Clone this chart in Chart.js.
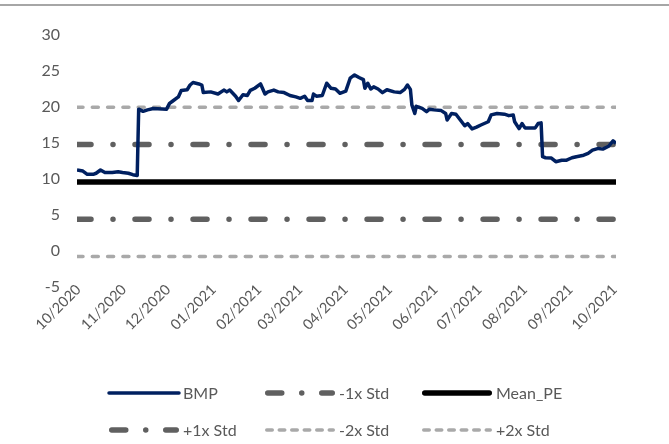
<!DOCTYPE html>
<html>
<head>
<meta charset="utf-8">
<script src="https://cdn.jsdelivr.net/npm/chart.js@4.4.1/dist/chart.umd.min.js"></script>
<style>
  html, body { margin: 0; padding: 0; background: #fff; }
  #wrap { position: relative; width: 669px; height: 444px; }
  #topline { position: absolute; left: 0; top: 4px; width: 669px; height: 2px; background: #a6a6a6; }
  canvas { position: absolute; left: 0; top: 0; }
</style>
</head>
<body>
<div id="wrap">
  <div id="topline"></div>
  <canvas id="pe-chart" width="669" height="444"></canvas>
</div>
<script>
// BMP price/earnings
var dates = [
  '2020-09-30', '2020-10-04', '2020-10-07', '2020-10-11', '2020-10-13', '2020-10-16', '2020-10-19', '2020-10-24',
  '2020-10-28', '2020-10-31', '2020-11-04', '2020-11-07', '2020-11-10', '2020-11-11', '2020-11-14', '2020-11-17',
  '2020-11-21', '2020-11-30', '2020-12-02', '2020-12-04', '2020-12-08', '2020-12-10', '2020-12-14', '2020-12-16',
  '2020-12-18', '2020-12-22', '2020-12-24', '2020-12-25', '2020-12-30', '2021-01-04', '2021-01-08', '2021-01-10',
  '2021-01-12', '2021-01-16', '2021-01-18', '2021-01-21', '2021-01-24', '2021-01-26', '2021-01-29', '2021-02-02',
  '2021-02-05', '2021-02-07', '2021-02-11', '2021-02-14', '2021-02-18', '2021-02-22', '2021-02-26', '2021-03-01',
  '2021-03-04', '2021-03-06', '2021-03-09', '2021-03-10', '2021-03-12', '2021-03-16', '2021-03-19', '2021-03-22',
  '2021-03-25', '2021-03-28', '2021-04-01', '2021-04-04', '2021-04-07', '2021-04-10', '2021-04-13', '2021-04-14',
  '2021-04-16', '2021-04-18', '2021-04-20', '2021-04-23', '2021-04-26', '2021-04-29', '2021-05-04', '2021-05-08',
  '2021-05-11', '2021-05-13', '2021-05-15', '2021-05-16', '2021-05-18', '2021-05-19', '2021-05-23', '2021-05-26',
  '2021-05-28', '2021-05-31', '2021-06-05', '2021-06-08', '2021-06-09', '2021-06-12', '2021-06-15', '2021-06-18',
  '2021-06-21', '2021-06-23', '2021-06-26', '2021-06-29', '2021-07-02', '2021-07-07', '2021-07-09', '2021-07-13',
  '2021-07-18', '2021-07-21', '2021-07-24', '2021-07-25', '2021-07-28', '2021-07-30', '2021-08-01', '2021-08-08',
  '2021-08-10', '2021-08-12', '2021-08-13', '2021-08-15', '2021-08-19', '2021-08-22', '2021-08-26', '2021-08-29',
  '2021-09-02', '2021-09-05', '2021-09-10', '2021-09-13', '2021-09-16', '2021-09-20', '2021-09-23', '2021-09-27',
  '2021-09-30', '2021-10-02'
];
var bmp = [
  11.25, 11.1, 10.65, 10.65, 10.8, 11.25, 10.9, 10.9,
  11.0, 10.9, 10.8, 10.6, 10.5, 19.7, 19.4, 19.6,
  19.8, 19.7, 20.5, 20.8, 21.4, 22.3, 22.4, 23.05,
  23.4, 23.2, 23.05, 22.0, 22.1, 21.8, 22.35, 22.1,
  22.35, 21.5, 20.9, 21.7, 21.6, 22.3, 22.6, 23.2,
  21.8, 22.1, 22.35, 22.1, 22.0, 21.6, 21.4, 21.2,
  21.5, 20.9, 20.9, 21.8, 21.5, 21.6, 23.3, 22.6,
  22.5, 21.9, 22.2, 24.0, 24.45, 24.1, 23.8, 22.6,
  23.3, 22.5, 22.8, 22.5, 22.0, 22.4, 22.1, 22.0,
  22.45, 23.05, 22.45, 20.3, 19.1, 20.1, 19.8, 19.35,
  19.7, 19.6, 19.5, 19.1, 18.2, 19.1, 19.0, 18.2,
  17.4, 17.7, 16.95, 17.2, 17.5, 17.95, 18.9, 19.1,
  19.0, 18.8, 18.9, 17.95, 17.0, 17.7, 17.1, 17.1,
  17.7, 17.8, 13.1, 12.95, 12.9, 12.4, 12.6, 12.6,
  12.95, 13.1, 13.3, 13.55, 14.0, 14.25, 14.15, 14.55,
  15.3, 14.95
];

// flat reference lines
var bandNames = ['-1x Std', 'Mean_PE', '+1x Std', '-2x Std', '+2x Std'];
var bandValues = [4.42, 9.6, 14.78, -0.76, 19.96];

var monthStarts = ['2020-10-01', '2020-11-01', '2020-12-01', '2021-01-01', '2021-02-01', '2021-03-01', '2021-04-01',
  '2021-05-01', '2021-06-01', '2021-07-01', '2021-08-01', '2021-09-01', '2021-10-01'];
var monthLabels = ['10/2020', '11/2020', '12/2020', '01/2021', '02/2021', '03/2021', '04/2021',
  '05/2021', '06/2021', '07/2021', '08/2021', '09/2021', '10/2021'];

var fontFamily = 'Lato, "Open Sans", sans-serif';
var textGrey = '#595959';

var toDay = function(s) {
  return (Date.parse(s + 'T00:00:00Z') - Date.parse('2020-10-01T00:00:00Z')) / 864e5;
};
var firstDay = toDay(dates[0]);
var lastDay = toDay(dates[dates.length - 1]);

var bmpPoints = dates.map(function(d, i) { return {x: toDay(d), y: bmp[i]}; });
var flat = function(v) { return [{x: firstDay, y: v}, {x: lastDay, y: v}]; };

var dashDot = [14, 22, 0.01, 22];
var styles = {
  '-1x Std': {color: '#606060', width: 5.5, dash: dashDot, cap: 'round', legendDash: [14, 20, 0.01, 20]},
  'Mean_PE': {color: '#000000', width: 5.5, dash: [], cap: 'round'},
  '+1x Std': {color: '#606060', width: 5.5, dash: dashDot, cap: 'round', legendDash: [14, 20, 0.01, 20]},
  '-2x Std': {color: '#a9a9a9', width: 3.5, dash: [6, 9.3], cap: 'round', legendDash: [5.5, 7]},
  '+2x Std': {color: '#a9a9a9', width: 3.5, dash: [6, 9.3], cap: 'round', legendDash: [5.5, 7]}
};

var datasets = [{
  label: 'BMP',
  data: bmpPoints,
  borderColor: '#002060',
  borderWidth: 3.5,
  borderJoinStyle: 'round',
  pointRadius: 0,
  tension: 0
}];
bandNames.forEach(function(name, i) {
  var s = styles[name];
  datasets.push({
    label: name,
    data: flat(bandValues[i]),
    borderColor: s.color,
    borderWidth: s.width,
    borderDash: s.dash,
    borderCapStyle: s.cap,
    legendDash: s.legendDash,
    pointRadius: 0
  });
});

// Excel-style legend: 3 equal columns, 2 rows
var legendCols = [109, 265, 422];
var legendRows = [393, 430];
var gridLegend = {
  id: 'gridLegend',
  afterDraw: function(chart) {
    var ctx = chart.ctx;
    chart.data.datasets.forEach(function(ds, i) {
      var x = legendCols[i % 3];
      var y = legendRows[Math.floor(i / 3)];
      var cap = ds.borderCapStyle === 'round' ? ds.borderWidth / 2 : 0;
      ctx.save();
      ctx.strokeStyle = ds.borderColor;
      ctx.lineWidth = ds.borderWidth;
      ctx.lineCap = ds.borderCapStyle || 'round';
      ctx.setLineDash(ds.legendDash || ds.borderDash || []);
      ctx.beginPath();
      ctx.moveTo(x + cap, y);
      ctx.lineTo(x + 70 - cap, y);
      ctx.stroke();
      ctx.setLineDash([]);
      ctx.fillStyle = textGrey;
      ctx.font = '16px ' + fontFamily;
      ctx.textBaseline = 'middle';
      ctx.textAlign = 'left';
      ctx.fillText(ds.label, x + 74, y + 1);
      ctx.restore();
    });
  }
};

new Chart(document.getElementById('pe-chart').getContext('2d'), {
  type: 'line',
  data: {datasets: datasets},
  plugins: [gridLegend],
  options: {
    responsive: false,
    animation: false,
    layout: {padding: {left: 0, right: 53, top: 35, bottom: 0}},
    plugins: {
      legend: {display: false},
      tooltip: {enabled: false}
    },
    scales: {
      x: {
        type: 'linear',
        min: firstDay,
        max: lastDay,
        grid: {display: false, drawTicks: false},
        border: {display: false},
        afterBuildTicks: function(scale) {
          scale.ticks = monthStarts.map(function(s) { return {value: toDay(s)}; });
        },
        afterFit: function(scale) {
          scale.height = 157;
          // let the month labels run up over the "-5" tick like the original
          scale._computeLabelArea = function() { return undefined; };
        },
        ticks: {
          autoSkip: false,
          maxRotation: 45,
          minRotation: 45,
          padding: -6,
          color: textGrey,
          font: {family: fontFamily, size: 14.5},
          callback: function(value, index) { return monthLabels[index]; }
        }
      },
      y: {
        min: -5,
        max: 30,
        grid: {display: false, drawTicks: false},
        border: {display: false},
        afterFit: function(scale) { scale.width = 77; },
        ticks: {
          stepSize: 5,
          padding: 17,
          color: textGrey,
          font: {family: fontFamily, size: 16}
        }
      }
    }
  }
});
</script>
</body>
</html>
